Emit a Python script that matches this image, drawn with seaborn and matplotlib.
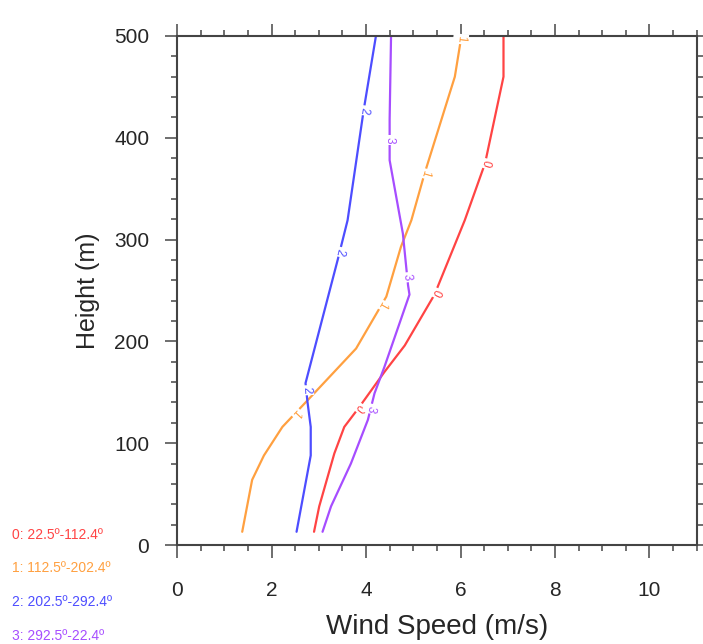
import numpy as np
import pandas as pd
import seaborn as sns
import matplotlib
matplotlib.use("Agg")
import matplotlib.pyplot as plt
from matplotlib.ticker import MultipleLocator

# wind speed profiles per direction sector
height_0 = [13, 38, 90, 116, 135, 170, 196, 246, 319, 375, 460, 500]
speed_0 = [2.90, 3.01, 3.33, 3.54, 3.85, 4.39, 4.82, 5.45, 6.09, 6.52, 6.91, 6.91]

height_1 = [13, 64, 88, 116, 142, 193, 244, 293, 319, 365, 460, 500]
speed_1 = [1.38, 1.59, 1.84, 2.23, 2.76, 3.79, 4.43, 4.74, 4.96, 5.24, 5.88, 6.02]

height_2 = [13, 88, 116, 141, 159, 280, 319, 427, 500]
speed_2 = [2.53, 2.83, 2.83, 2.76, 2.72, 3.40, 3.61, 3.95, 4.21]

height_3 = [13, 38, 80, 123, 149, 175, 246, 255, 306, 378, 418, 500]
speed_3 = [3.08, 3.26, 3.68, 4.04, 4.18, 4.39, 4.92, 4.89, 4.78, 4.50, 4.50, 4.53]

sectors = ["0", "1", "2", "3"]
sector_names = ["0: 22.5º-112.4º", "1: 112.5º-202.4º",
                "2: 202.5º-292.4º", "3: 292.5º-22.4º"]
colors = ["#ff4444", "#ffa040", "#4d4dff", "#a64dff"]

# heights where the inline line labels sit
label_heights = [[135, 248, 375], [130, 236, 365, 497],
                 [152, 288, 427], [134, 263, 398]]

heights = [height_0, height_1, height_2, height_3]
speeds = [speed_0, speed_1, speed_2, speed_3]

df = pd.concat([
    pd.DataFrame({"speed": s, "height": h, "sector": name})
    for name, h, s in zip(sectors, heights, speeds)
])

sns.set_theme(style="ticks")
plt.rcParams["font.family"] = ["Liberation Sans", "DejaVu Sans"]

fig = plt.figure(figsize=(7.03, 6.44), dpi=100)
ax = fig.add_axes([0.2518, 0.1537, 0.7393, 0.7904])

sns.lineplot(data=df, x="speed", y="height", hue="sector", palette=colors,
             sort=False, estimator=None, legend=False, linewidth=1.6, ax=ax)

ax.set_xlim(0, 11)
ax.set_ylim(0, 500)
ax.xaxis.set_major_locator(MultipleLocator(2))
ax.xaxis.set_minor_locator(MultipleLocator(0.5))
ax.yaxis.set_major_locator(MultipleLocator(100))
ax.yaxis.set_minor_locator(MultipleLocator(20))

ax.tick_params(which="both", direction="out", top=True, right=True,
               color="#555555", width=1.2)
ax.tick_params(which="major", length=9)
ax.tick_params(which="minor", length=4.5)
ax.tick_params(axis="x", which="major", pad=17, labelsize=15)
ax.tick_params(axis="y", which="major", pad=11, labelsize=15)
for sp in ax.spines.values():
    sp.set_color("#444444")
    sp.set_linewidth(1.5)

ax.set_xlabel("Wind Speed (m/s)", fontsize=20, labelpad=10)
ax.set_ylabel("Height (m)", fontsize=18, labelpad=10)

# inline labels along each line, rotated with the line
fig.canvas.draw()
for name, h, s, c, lh in zip(sectors, heights, speeds, colors, label_heights):
    for y in lh:
        x = np.interp(y, h, s)
        x1, y1 = ax.transData.transform((np.interp(y - 10, h, s), y - 10))
        x2, y2 = ax.transData.transform((np.interp(y + 10, h, s), y + 10))
        ang = np.degrees(np.arctan2(y2 - y1, x2 - x1))
        ax.text(x, y, name, color=c, fontsize=8.5, rotation=ang - 180,
                rotation_mode="anchor", ha="center", va="center",
                bbox=dict(boxstyle="square,pad=0.15", fc="white", ec="none"))

for i, (txt, c) in enumerate(zip(sector_names, colors)):
    fig.text(12 / 703, 1 - (535 + i * 33.5) / 644, txt, color=c,
             fontsize=10, va="center", ha="left")

fig.savefig("out.png", dpi=100)
